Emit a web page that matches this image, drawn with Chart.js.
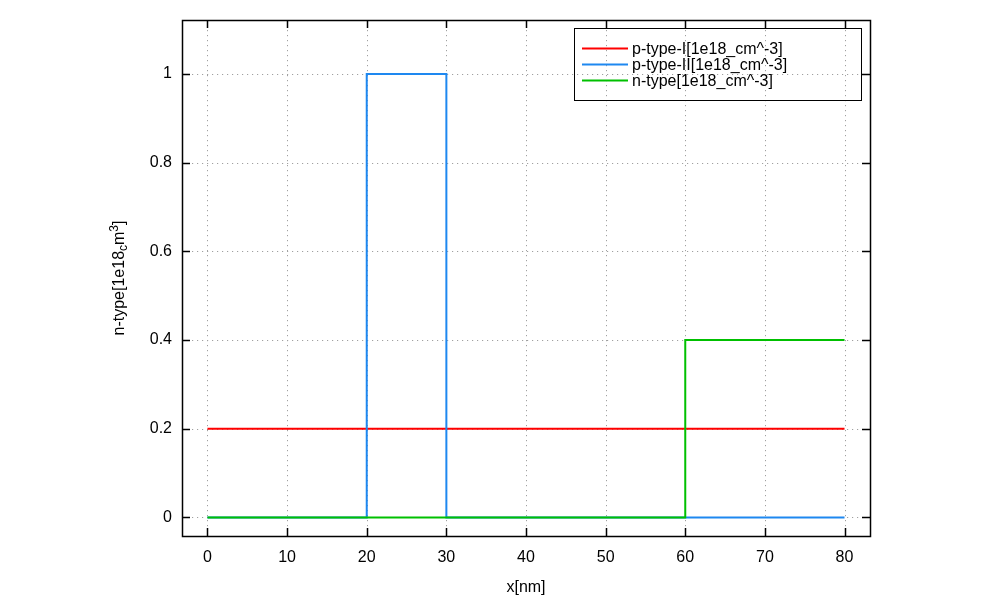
<!DOCTYPE html>
<html lang="en">
<head>
<meta charset="UTF-8">
<title>Doping profile</title>
<script src="https://cdn.jsdelivr.net/npm/chart.js"></script>
<style>
  html, body { margin: 0; padding: 0; background: #fff; }
  #wrap { width: 1000px; height: 600px; }
</style>
</head>
<body>
<div id="wrap"><canvas id="profile" width="1000" height="600"></canvas></div>
<script>
// series values (x in nm, concentration in 1e18 cm^-3), drawn as steps
const seriesNames = ["p-type-I[1e18_cm^-3]", "p-type-II[1e18_cm^-3]", "n-type[1e18_cm^-3]"];
const seriesColors = ["#ff0000", "#1e88f0", "#00c000"];
const pType1X = [0, 80];
const pType1Y = [0.2, 0.2];
const pType2X = [0, 20, 30, 80];
const pType2Y = [0, 1, 0, 0];
const nTypeX = [0, 60, 80];
const nTypeY = [0, 0.4, 0.4];

// axis ticks
const xTicks = [0, 10, 20, 30, 40, 50, 60, 70, 80];
const yTicks = [0, 0.2, 0.4, 0.6, 0.8, 1];

const FONT = "'Liberation Sans', Arial, sans-serif";

// each value holds until the next x, then the line jumps
function pts(xs, ys) {
  const out = [];
  xs.forEach((x, i) => {
    if (i > 0 && ys[i] !== ys[i - 1]) out.push({ x: x, y: ys[i - 1] });
    out.push({ x: x, y: ys[i] });
  });
  return out;
}

// gnuplot-like frame: dotted grid, box border, inward tick marks, legend, titles
const gnuFrame = {
  id: "gnuFrame",
  beforeDatasetsDraw(chart) {
    const { ctx, chartArea: a, scales } = chart;
    ctx.save();
    ctx.strokeStyle = "#a0a0a0";
    ctx.lineWidth = 1;
    ctx.setLineDash([1.2, 3.8]);
    xTicks.forEach(v => {
      const px = Math.round(scales.x.getPixelForValue(v)) + 0.5;
      ctx.beginPath(); ctx.moveTo(px, a.top); ctx.lineTo(px, a.bottom); ctx.stroke();
    });
    yTicks.forEach(v => {
      const py = Math.round(scales.y.getPixelForValue(v)) + 0.5;
      ctx.beginPath(); ctx.moveTo(a.left, py); ctx.lineTo(a.right, py); ctx.stroke();
    });
    ctx.restore();
  },
  afterDatasetsDraw(chart) {
    const { ctx, chartArea: a, scales } = chart;
    ctx.save();
    ctx.strokeStyle = "#000";
    ctx.lineWidth = 1.5;
    ctx.setLineDash([]);
    ctx.strokeRect(Math.round(a.left) + 0.5, Math.round(a.top) + 0.5,
                   Math.round(a.right - a.left), Math.round(a.bottom - a.top));
    const tl = 8;
    ctx.beginPath();
    xTicks.forEach(v => {
      const px = Math.round(scales.x.getPixelForValue(v)) + 0.5;
      ctx.moveTo(px, a.bottom); ctx.lineTo(px, a.bottom - tl);
      ctx.moveTo(px, a.top); ctx.lineTo(px, a.top + tl);
    });
    yTicks.forEach(v => {
      const py = Math.round(scales.y.getPixelForValue(v)) + 0.5;
      ctx.moveTo(a.left, py); ctx.lineTo(a.left + tl, py);
      ctx.moveTo(a.right, py); ctx.lineTo(a.right - tl, py);
    });
    ctx.stroke();

    // legend box
    ctx.lineWidth = 1;
    ctx.strokeRect(574.5, 28.5, 287, 72);
    ctx.font = "16px " + FONT;
    ctx.textBaseline = "middle";
    ctx.textAlign = "left";
    chart.data.datasets.forEach((ds, i) => {
      const y = 48.5 + i * 16;
      ctx.strokeStyle = ds.borderColor;
      ctx.lineWidth = 2;
      ctx.beginPath(); ctx.moveTo(582, y); ctx.lineTo(628, y); ctx.stroke();
      ctx.fillStyle = "#000";
      ctx.fillText(ds.label, 632, y + 1);
    });

    // x title
    ctx.fillStyle = "#000";
    ctx.textAlign = "center";
    ctx.fillText("x[nm]", (a.left + a.right) / 2, 588);

    // y title with enhanced-text sub/superscripts: n-type[1e18_cm^3]
    const parts = [
      { t: "n-type[1e18", s: 16, dy: 0 },
      { t: "c", s: 12, dy: 4 },
      { t: "m", s: 16, dy: 0 },
      { t: "3", s: 12, dy: -5 },
      { t: "]", s: 16, dy: 0 }
    ];
    let total = 0;
    parts.forEach(p => { ctx.font = p.s + "px " + FONT; p.w = ctx.measureText(p.t).width; total += p.w; });
    ctx.translate(120, (a.top + a.bottom) / 2);
    ctx.rotate(-Math.PI / 2);
    ctx.textAlign = "left";
    let cx = -total / 2;
    parts.forEach(p => {
      ctx.font = p.s + "px " + FONT;
      ctx.fillText(p.t, cx, p.dy);
      cx += p.w;
    });
    ctx.restore();
  }
};

new Chart(document.getElementById("profile"), {
  type: "line",
  data: {
    datasets: [
      { label: seriesNames[0], data: pts(pType1X, pType1Y), borderColor: seriesColors[0], order: 3 },
      { label: seriesNames[1], data: pts(pType2X, pType2Y), borderColor: seriesColors[1], order: 2 },
      { label: seriesNames[2], data: pts(nTypeX, nTypeY), borderColor: seriesColors[2], order: 1 }
    ].map(ds => Object.assign(ds, { borderWidth: 2, pointRadius: 0, fill: false, tension: 0 }))
  },
  options: {
    responsive: false,
    devicePixelRatio: 1,
    animation: false,
    layout: { padding: { left: 0, right: 130, top: 20, bottom: 0 } },
    plugins: { legend: { display: false }, tooltip: { enabled: false } },
    scales: {
      x: {
        type: "linear",
        min: -3.2,
        max: 83.2,
        afterBuildTicks: s => { s.ticks = xTicks.map(v => ({ value: v })); },
        afterFit: s => { s.height = 64; },
        grid: { display: false, drawTicks: false },
        border: { display: false },
        ticks: { color: "#000", font: { family: FONT, size: 16 }, padding: 12, maxRotation: 0 }
      },
      y: {
        type: "linear",
        min: -0.042,
        max: 1.122,
        afterBuildTicks: s => { s.ticks = yTicks.map(v => ({ value: v })); },
        afterFit: s => { s.width = 182; },
        grid: { display: false, drawTicks: false },
        border: { display: false },
        ticks: {
          color: "#000", font: { family: FONT, size: 16 }, padding: 10,
          callback: v => String(Number(v.toFixed(1)))
        }
      }
    }
  },
  plugins: [gnuFrame]
});
</script>
</body>
</html>
